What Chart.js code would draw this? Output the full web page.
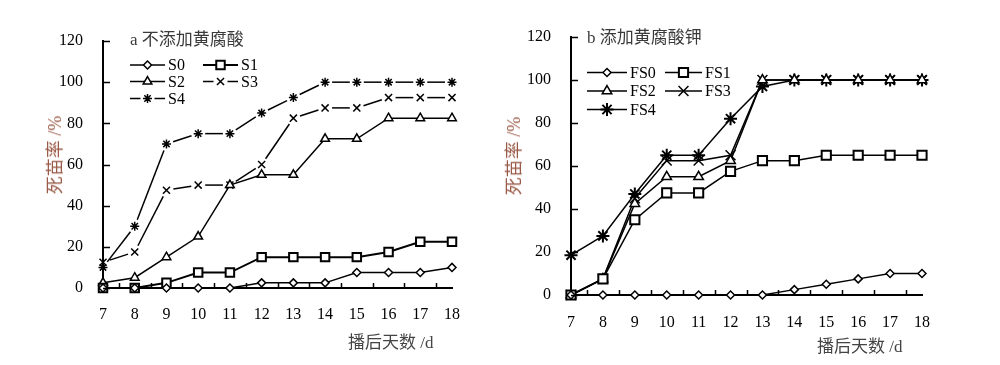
<!DOCTYPE html>
<html>
<head>
<meta charset="utf-8">
<script src="https://cdn.jsdelivr.net/npm/chart.js@4/dist/chart.umd.min.js"></script>
<style>
  html, body { margin: 0; padding: 0; background: #fff; }
  #wrap { position: relative; width: 1000px; height: 365px; overflow: hidden; }
  canvas { position: absolute; top: 0; }
  .txt { position: absolute; white-space: nowrap; font-family: "Liberation Serif", "Noto Sans CJK SC", serif; line-height: 1; }
  .ttl { font-size: 17px; color: #3a3a3a; }
  .xt  { font-size: 17px; color: #444; }
  .yt  { font-size: 18px; color: #9a5a48; transform: translate(-50%, -50%) rotate(-90deg); }
</style>
</head>
<body>
<div id="wrap">
  <canvas id="chartA" width="490" height="365" style="left:0"></canvas>
  <canvas id="chartB" width="510" height="365" style="left:490px"></canvas>
  <div class="txt ttl" style="left:130px; top:31px">a 不添加黄腐酸</div>
  <div class="txt ttl" style="left:587px; top:29px">b 添加黄腐酸钾</div>
  <div class="txt yt" style="left:55px; top:155px">死苗率 /%</div>
  <div class="txt yt" style="left:514px; top:156px">死苗率 /%</div>
  <div class="txt xt" style="left:348px; top:334px">播后天数 /d</div>
  <div class="txt xt" style="left:817px; top:338px">播后天数 /d</div>
</div>
<script>
// Days after sowing (x) and seedling death rate (%) per treatment
const days = [7, 8, 9, 10, 11, 12, 13, 14, 15, 16, 17, 18];
const yTicks = [0, 20, 40, 60, 80, 100, 120];

// a: without fulvic acid
const S0 = [0, 0, 0, 0, 0, 2.5, 2.5, 2.5, 7.5, 7.5, 7.5, 10];
const S1 = [0, 0, 2.5, 7.5, 7.5, 15, 15, 15, 15, 17.5, 22.5, 22.5];
const S2 = [2.5, 5, 15, 25, 50, 55, 55, 72.5, 72.5, 82.5, 82.5, 82.5];
const S3 = [12.5, 17.5, 47.5, 50, 50, 60, 82.5, 87.5, 87.5, 92.5, 92.5, 92.5];
const S4 = [10, 30, 70, 75, 75, 85, 92.5, 100, 100, 100, 100, 100];

// b: with potassium fulvate
const FS0 = [0, 0, 0, 0, 0, 0, 0, 2.5, 5, 7.5, 10, 10];
const FS1 = [0, 7.5, 35, 47.5, 47.5, 57.5, 62.5, 62.5, 65, 65, 65, 65];
const FS2 = [0, 7.5, 42.5, 55, 55, 62.5, 100, 100, 100, 100, 100, 100];
const FS3 = [0, 7.5, 45, 62.5, 62.5, 65, 100, 100, 100, 100, 100, 100];
const FS4 = [18.5, 27.5, 47, 65, 65, 82, 97, 100, 100, 100, 100, 100];

const SERIF = '"Liberation Serif", "Times New Roman", serif';
const GAP = 7; // gap left around markers on the broken-line series

const segLen = c => Math.hypot(c.p1.x - c.p0.x, c.p1.y - c.p0.y);
const brokenSegment = {
  borderDash: c => [Math.max(segLen(c) - 2 * GAP, 0), 2 * GAP],
  borderDashOffset: c => segLen(c) - GAP,
};

function series(label, data, style, radius, extra) {
  return Object.assign({
    label, data,
    borderColor: '#000',
    borderWidth: 1.5,
    pointStyle: style,
    pointRadius: radius,
    pointHoverRadius: radius,
    pointBackgroundColor: '#fff',
    pointBorderColor: '#000',
    pointBorderWidth: 1.5,
    tension: 0,
    clip: false,
  }, extra || {});
}

// inward tick marks: y at every tick, x halfway between days
const innerTicks = {
  id: 'innerTicks',
  afterDatasetsDraw(chart) {
    const { ctx, scales: { x, y } } = chart;
    ctx.save();
    ctx.strokeStyle = '#000';
    ctx.lineWidth = 1.5;
    ctx.beginPath();
    yTicks.forEach(v => {
      const py = Math.round(y.getPixelForValue(v)) + 0.5;
      ctx.moveTo(x.left, py);
      ctx.lineTo(x.left + 7, py);
    });
    for (let i = 0; i < days.length - 1; i++) {
      const px = Math.round(x.getPixelForValue((days[i] + days[i + 1]) / 2)) + 0.5;
      ctx.moveTo(px, y.bottom);
      ctx.lineTo(px, y.bottom - 5);
    }
    ctx.stroke();
    ctx.restore();
  }
};

// legend drawn as line sample + marker + label, at given spots
const lineLegend = {
  id: 'lineLegend',
  afterDraw(chart, args, opts) {
    const { ctx } = chart;
    ctx.save();
    ctx.font = '16px ' + SERIF;
    ctx.textBaseline = 'middle';
    chart.data.datasets.forEach((ds, i) => {
      const p = opts.spots[i];
      if (!p) return;
      const mx = (p.x0 + p.x1) / 2;
      ctx.strokeStyle = '#000';
      ctx.lineWidth = ds.borderWidth;
      ctx.setLineDash([]);
      ctx.beginPath();
      if (ds.segment) {
        ctx.moveTo(p.x0, p.y); ctx.lineTo(mx - GAP, p.y);
        ctx.moveTo(mx + GAP, p.y); ctx.lineTo(p.x1, p.y);
      } else {
        ctx.moveTo(p.x0, p.y); ctx.lineTo(p.x1, p.y);
      }
      ctx.stroke();
      ctx.fillStyle = '#fff';
      ctx.lineWidth = ds.pointBorderWidth;
      Chart.helpers.drawPoint(ctx, {
        pointStyle: ds.pointStyle, radius: ds.pointRadius,
        borderWidth: ds.pointBorderWidth, rotation: 0
      }, mx, p.y);
      ctx.fillStyle = '#000';
      ctx.fillText(ds.label, p.x1 + 3, p.y + 1);
    });
    ctx.restore();
  }
};

function makeOptions(box, spots) {
  return {
    responsive: false,
    animation: false,
    events: [],
    layout: { padding: { left: 0, top: box.top, right: box.right, bottom: 0 } },
    plugins: {
      legend: { display: false },
      tooltip: { enabled: false },
      lineLegend: { spots },
    },
    scales: {
      x: {
        type: 'linear',
        min: 7, max: 18,
        afterFit: s => { s.height = box.xh; },
        grid: { display: false, drawTicks: false },
        border: { display: true, color: '#000', width: 2 },
        ticks: {
          stepSize: 1,
          padding: box.xpad,
          color: '#000',
          maxRotation: 0,
          font: { family: SERIF, size: 16 },
        },
      },
      y: {
        min: 0, max: 120,
        afterFit: s => { s.width = box.yw; },
        afterBuildTicks: s => { s.ticks = yTicks.map(v => ({ value: v })); },
        grid: { display: false, drawTicks: false },
        border: { display: true, color: '#000', width: 2 },
        ticks: {
          padding: 20,
          color: '#000',
          font: { family: SERIF, size: 16 },
        },
      },
    },
  };
}

new Chart(document.getElementById('chartA'), {
  type: 'line',
  data: {
    labels: days,
    datasets: [
      series('S0', S0, 'rectRot', 4),
      series('S1', S1, 'rect', 6, { borderWidth: 2, pointBorderWidth: 2 }),
      series('S2', S2, 'triangle', 5),
      series('S3', S3, 'crossRot', 5),
      series('S4', S4, 'star', 4.5),
    ].map((d, i) => i > 2 ? Object.assign(d, { segment: brokenSegment }) : d),
  },
  options: makeOptions({ top: 41, right: 38, xh: 77, xpad: 17, yw: 103 }, [
    { x0: 130, x1: 165, y: 65 },
    { x0: 203, x1: 238, y: 65 },
    { x0: 130, x1: 165, y: 81.5 },
    { x0: 203, x1: 238, y: 81.5 },
    { x0: 130, x1: 165, y: 98.5 },
  ]),
  plugins: [innerTicks, lineLegend],
});

new Chart(document.getElementById('chartB'), {
  type: 'line',
  data: {
    labels: days,
    datasets: [
      series('FS0', FS0, 'rectRot', 4),
      series('FS1', FS1, 'rect', 6.5, { pointBorderWidth: 2 }),
      series('FS2', FS2, 'triangle', 5.5),
      series('FS3', FS3, 'crossRot', 7),
      series('FS4', FS4, 'star', 6.5, { pointBorderWidth: 2 }),
    ],
  },
  options: makeOptions({ top: 37, right: 78, xh: 70, xpad: 18, yw: 81 }, [
    { x0: 97, x1: 137, y: 72.5 },
    { x0: 175, x1: 212, y: 72.5 },
    { x0: 97, x1: 137, y: 91 },
    { x0: 175, x1: 212, y: 91 },
    { x0: 97, x1: 137, y: 109.5 },
  ]),
  plugins: [innerTicks, lineLegend],
});
</script>
</body>
</html>
